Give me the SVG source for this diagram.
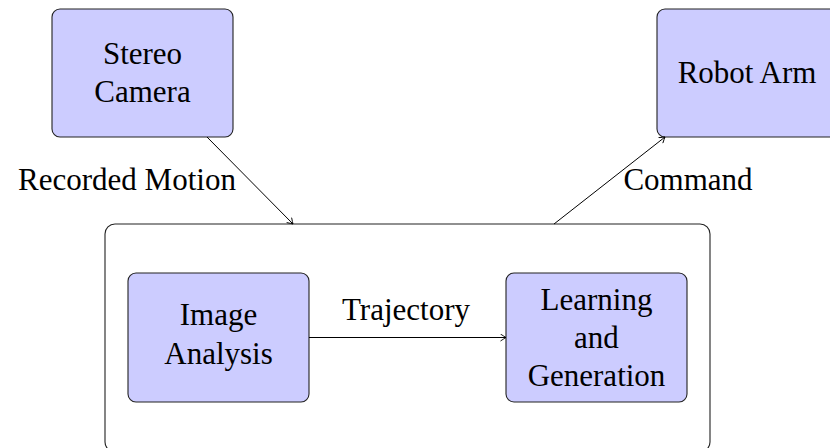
<svg xmlns="http://www.w3.org/2000/svg" width="830" height="448" viewBox="0 0 830 448" font-family="'Liberation Serif', 'DejaVu Serif', serif">
<style>
.box{fill:#ccccff;stroke:#222;stroke-width:1.1}
.outer{fill:#fff;stroke:#222;stroke-width:1.1}
text{font-family:'Liberation Serif','DejaVu Serif',serif;font-size:31px;fill:#000;text-anchor:middle}
.edge{fill:none;stroke:#000;stroke-width:1}
</style>
<defs>
<marker id="arr" viewBox="-6 -4 8 8" refX="0" refY="0" markerWidth="8" markerHeight="8" markerUnits="userSpaceOnUse" orient="auto">
<path d="M-5.5,-3.5 Q-1.5,-0.8 0,0 Q-1.5,0.8 -5.5,3.5" fill="none" stroke="#000" stroke-width="0.9"/>
</marker>
</defs>
<rect width="830" height="448" fill="#fff"/>
<g id="system">
<rect class="outer" x="105" y="224" width="605" height="228" rx="10" ry="10"/>
</g>
<g id="stereo-camera">
<rect class="box" x="52" y="9" width="181" height="128" rx="8" ry="8"/>
<text x="142.5" y="64">Stereo</text>
<text x="142.5" y="102">Camera</text>
</g>
<g id="robot-arm">
<rect class="box" x="657" y="9" width="181" height="128" rx="8" ry="8"/>
<text x="747" y="83">Robot Arm</text>
</g>
<g id="image-analysis">
<rect class="box" x="128" y="273" width="181" height="129" rx="8" ry="8"/>
<text x="218.5" y="325">Image</text>
<text x="218.5" y="364">Analysis</text>
</g>
<g id="learning-generation">
<rect class="box" x="506" y="273" width="181" height="129" rx="8" ry="8"/>
<text x="596.5" y="310">Learning</text>
<text x="596.5" y="348">and</text>
<text x="596.5" y="386">Generation</text>
</g>
<g id="connectors">
<line class="edge" x1="207" y1="137" x2="293" y2="224" marker-end="url(#arr)"/>
<text x="127" y="190">Recorded Motion</text>
<line class="edge" x1="554" y1="224" x2="665" y2="137" marker-end="url(#arr)"/>
<text x="688" y="190">Command</text>
<line class="edge" x1="309" y1="337.5" x2="506" y2="337.5" marker-end="url(#arr)"/>
<text x="406" y="320">Trajectory</text>
</g>
</svg>
